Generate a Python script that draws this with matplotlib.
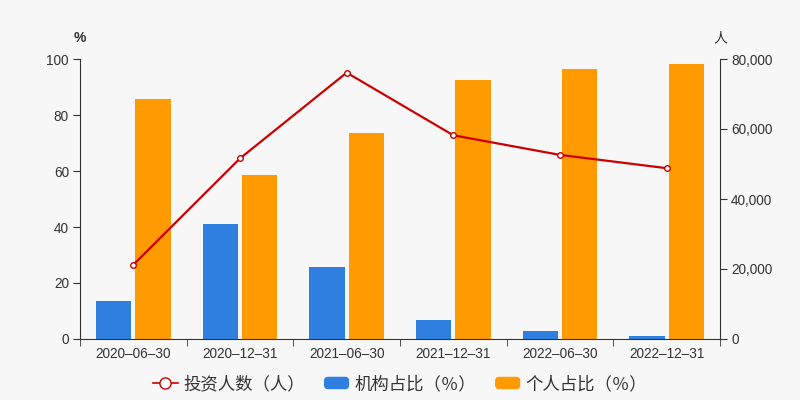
import matplotlib
matplotlib.use("Agg")
import matplotlib.pyplot as plt
import numpy as np
from matplotlib.patches import FancyBboxPatch
from matplotlib.legend_handler import HandlerPatch
from matplotlib.lines import Line2D
from matplotlib.patches import Patch

plt.rcParams['font.family'] = ['Liberation Sans', 'Noto Sans CJK SC', 'DejaVu Sans']

categories = ["2020–06–30", "2020–12–31", "2021–06–30", "2021–12–31", "2022–06–30", "2022–12–31"]
inst_pct = [13.7, 41.1, 25.8, 6.8, 3.0, 1.2]
indiv_pct = [85.7, 58.5, 73.6, 92.5, 96.4, 98.2]
investors = [21200, 51600, 76100, 58200, 52600, 48800]

BG = "#f7f7f7"
BLUE = "#2e7fe0"
ORANGE = "#ff9a00"
RED = "#cc0000"
TXT = "#333333"

fig = plt.figure(figsize=(8, 4), dpi=100, facecolor=BG)
ax = fig.add_axes([0.1, 0.1525, 0.8, 0.7])
ax.set_facecolor(BG)
ax2 = ax.twinx()

x = np.arange(len(categories))
w = 0.33
gap = 0.04
ax.bar(x - (w + gap) / 2, inst_pct, width=w, color=BLUE, zorder=2)
ax.bar(x + (w + gap) / 2, indiv_pct, width=w, color=ORANGE, zorder=2)

ax2.plot(x, investors, color=RED, lw=1.6, marker='o', ms=4, mfc='white', mec=RED, mew=1, zorder=5)

ax.set_xlim(-0.5, len(categories) - 0.5)
ax.set_ylim(0, 100)
ax2.set_ylim(0, 80000)
ax.set_yticks([0, 20, 40, 60, 80, 100])
ax2.set_yticks([0, 20000, 40000, 60000, 80000])
ax2.set_yticklabels(["0", "20,000", "40,000", "60,000", "80,000"])
ax.set_xticks(x)
ax.set_xticklabels(categories)
ax.set_xticks(np.arange(len(categories) + 1) - 0.5, minor=True)
ax.tick_params(axis='x', which='major', length=0, pad=6, labelsize=9.8, colors=TXT)
ax.tick_params(axis='x', which='minor', length=5, color=TXT)
ax.tick_params(axis='y', length=5, pad=3, labelsize=9.8, colors=TXT, color=TXT)
ax2.tick_params(axis='y', length=5, pad=3, labelsize=9.8, colors=TXT, color=TXT)

for a in (ax, ax2):
    a.spines['top'].set_visible(False)
    a.spines['left'].set_color(TXT)
    a.spines['right'].set_color(TXT)
    a.spines['bottom'].set_color(TXT)
ax.spines['right'].set_visible(False)
ax2.spines['left'].set_visible(False)
ax2.spines['bottom'].set_visible(False)

fig.text(0.1, 0.905, "%", ha='center', va='center', fontsize=10, color=TXT, fontweight='bold')
fig.text(0.9, 0.905, "人", ha='center', va='center', fontsize=10, color=TXT,
         family=['Noto Sans CJK SC', 'DejaVu Sans'])


class RoundHandler(HandlerPatch):
    def create_artists(self, legend, orig_handle, xdescent, ydescent, width, height, fontsize, trans):
        p = FancyBboxPatch((-xdescent, -ydescent + height * 0.05), width, height * 0.9,
                           boxstyle="round,pad=0,rounding_size=%f" % (height * 0.3),
                           facecolor=orig_handle.get_facecolor(), edgecolor='none', transform=trans)
        return [p]


handles = [
    Line2D([], [], color=RED, lw=1.2, marker='o', ms=8, mfc='white', mec=RED, mew=1),
    Patch(facecolor=BLUE),
    Patch(facecolor=ORANGE),
]
labels = ["投资人数（人）", "机构占比（％）", "个人占比（％）"]
leg = fig.legend(handles, labels, loc='center', bbox_to_anchor=(0.5, 0.04), ncol=3, frameon=False,
                 handlelength=1.45, handleheight=0.85, handletextpad=0.3, columnspacing=1.1,
                 prop={'family': ['Noto Sans CJK SC', 'DejaVu Sans'], 'size': 12.5},
                 handler_map={Patch: RoundHandler()})
for t in leg.get_texts():
    t.set_color(TXT)

fig.savefig("out.png", dpi=100, facecolor=BG)
